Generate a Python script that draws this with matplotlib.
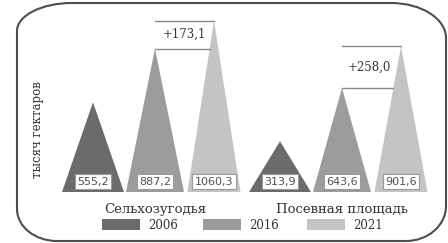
import matplotlib.pyplot as plt
from matplotlib.path import Path
from matplotlib.patches import PathPatch, Polygon, Rectangle

# data
groups = ['Сельхозугодья', 'Посевная площадь']
years = ['2006', '2016', '2021']
agri_land = [555.2, 887.2, 1060.3]
sown_area = [313.9, 643.6, 901.6]
y_label = 'тысяч гектаров'

colors = ['#6b6b6b', '#9c9c9c', '#c4c4c4']
values = [agri_land, sown_area]

W, H = 448, 243
group_x = [93, 280]          # centre of the first triangle in each group (px)
offsets = [0, 62, 121]
widths = [62, 58, 53]


def fmt(v):
    return f'{v:.1f}'.replace('.', ',')


def rounded_frame(x0, y0, x1, y1, r):
    # r: (rx, ry) for corners tl, tr, br, bl ; y grows downward
    k = 0.5523
    (tlx, tly), (trx, try_), (brx, bry), (blx, bly) = r
    verts = [(x0 + tlx, y0), (x1 - trx, y0),
             (x1 - trx + k * trx, y0), (x1, y0 + try_ - k * try_), (x1, y0 + try_),
             (x1, y1 - bry),
             (x1, y1 - bry + k * bry), (x1 - brx + k * brx, y1), (x1 - brx, y1),
             (x0 + blx, y1),
             (x0 + blx - k * blx, y1), (x0, y1 - bly + k * bly), (x0, y1 - bly),
             (x0, y0 + tly),
             (x0, y0 + tly - k * tly), (x0 + tlx - k * tlx, y0), (x0 + tlx, y0)]
    codes = [Path.MOVETO, Path.LINETO,
             Path.CURVE4, Path.CURVE4, Path.CURVE4,
             Path.LINETO,
             Path.CURVE4, Path.CURVE4, Path.CURVE4,
             Path.LINETO,
             Path.CURVE4, Path.CURVE4, Path.CURVE4,
             Path.LINETO,
             Path.CURVE4, Path.CURVE4, Path.CURVE4]
    return Path(verts, codes)


fig = plt.figure(figsize=(W / 100, H / 100), dpi=100)

# overlay axes in pixel coordinates for frame, legend and captions
ov = fig.add_axes([0, 0, 1, 1])
ov.set_xlim(0, W)
ov.set_ylim(H, 0)
ov.axis('off')

# main axes: baseline at 192 px from top
base_px = 192
ax = fig.add_axes([0, (H - base_px) / H, 1, 177.8 / H])
ax.set_xlim(0, W)
ax.set_ylim(0, 1100)
ax.axis('off')

frame = rounded_frame(17, 3, 446, 241, [(55, 28), (55, 35), (40, 35), (40, 32)])
ov.add_patch(PathPatch(frame, facecolor='none', edgecolor='#4d4d4d', lw=1.5))

for g, vals in enumerate(values):
    cx = [group_x[g] + o for o in offsets]
    for i, v in enumerate(vals):
        hw = widths[i] / 2
        ax.add_patch(Polygon([(cx[i] - hw, 0), (cx[i] + hw, 0), (cx[i], v)],
                             closed=True, facecolor=colors[i], edgecolor='none'))
        ax.text(cx[i], 64, fmt(v), ha='center', va='center', fontsize=8,
                color='#505050', family='DejaVu Sans',
                bbox=dict(boxstyle='square,pad=0.22', facecolor='white',
                          edgecolor='#9a9a9a', lw=0.8))

    # bracket between 2016 and 2021
    lo, hi = vals[1], vals[2]
    hw = widths[2] / 2
    edge = cx[2] - hw * (1 - lo / hi)
    ax.plot([cx[1], edge], [lo, lo], color='#8a8a8a', lw=1)
    ax.plot([cx[1], cx[2]], [hi, hi], color='#8a8a8a', lw=1)
    ax.text((cx[1] + cx[2]) / 2 - 2 * g, (lo + hi) / 2, '+' + fmt(hi - lo),
            ha='center', va='center', fontsize=8.5, color='#333333',
            family='DejaVu Serif')

    ov.text(group_x[g] + offsets[1], 209, groups[g], ha='center', va='center',
            fontsize=9.5, color='#333333', family='DejaVu Serif')

# y label
ov.text(37, 130, y_label, rotation=90, ha='center', va='center', fontsize=8.5,
        color='#333333', family='DejaVu Serif')

# legend
leg_x = [102, 203, 307]
for i, yr in enumerate(years):
    ov.add_patch(Rectangle((leg_x[i], 219), 38, 11, facecolor=colors[i],
                           edgecolor='none'))
    ov.text(leg_x[i] + 46, 225, yr, ha='left', va='center', fontsize=8.5,
            color='#333333', family='DejaVu Serif')

plt.savefig('out.png', dpi=100)
